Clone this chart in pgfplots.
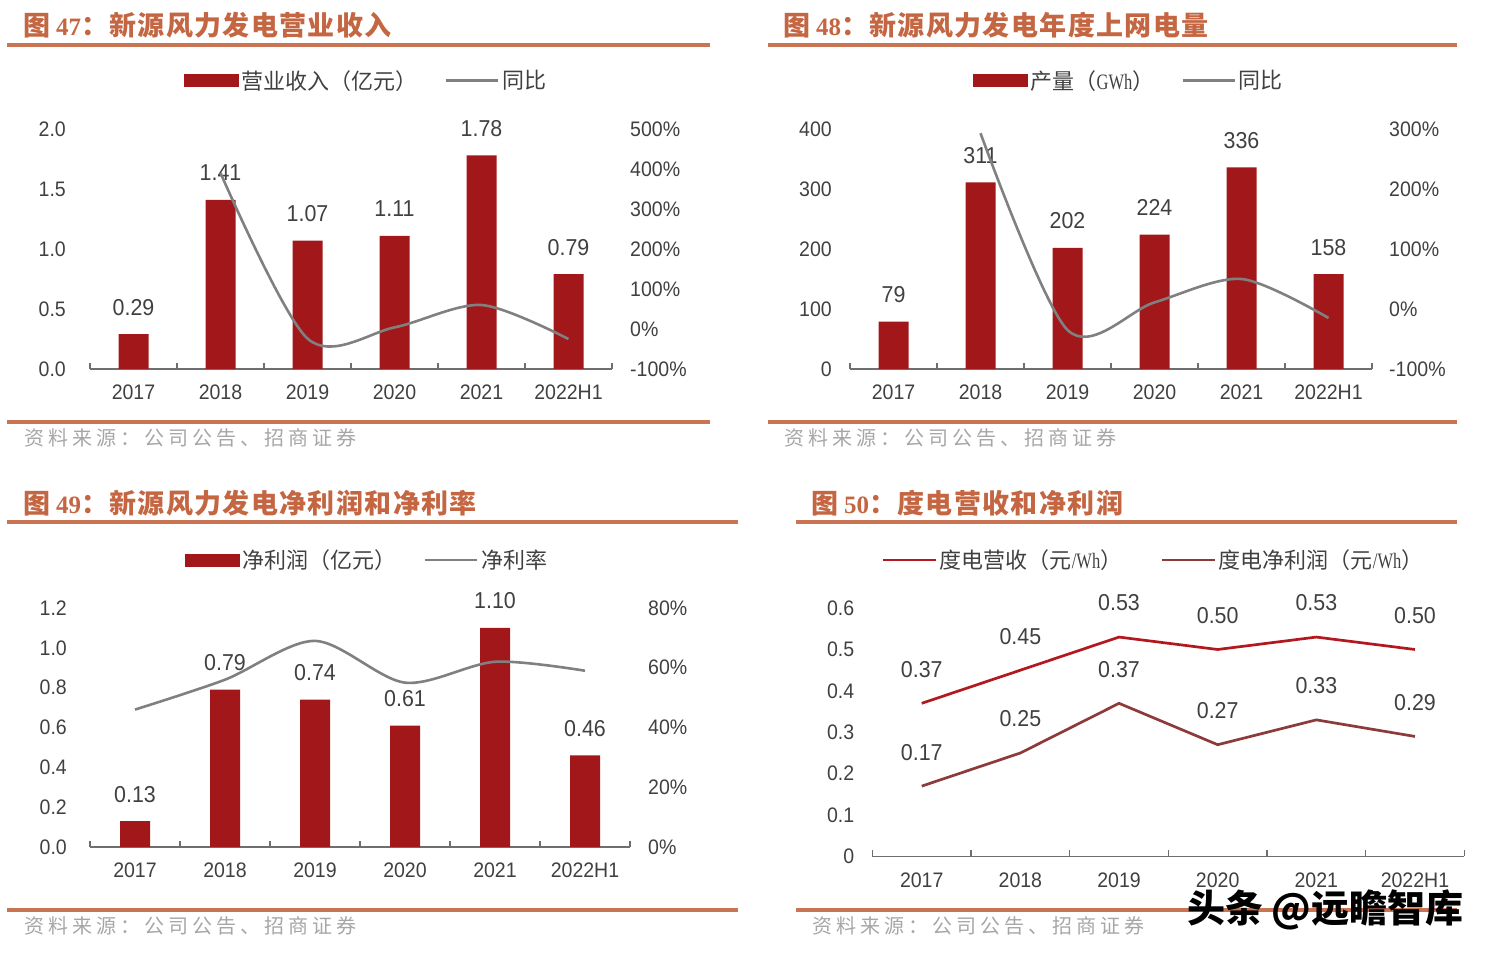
\documentclass[border=0pt]{standalone}
\usepackage{pgfplots}
\pgfplotsset{compat=1.18}
\usepackage{fontspec}
\setmainfont{Liberation Sans}[FakeStretch=0.93]
\newfontfamily\cjk{Noto Sans CJK SC}
\newfontfamily\cjkt{Noto Sans CJK SC}[LetterSpace=5]
\newfontfamily\cjks{Noto Sans CJK SC}[LetterSpace=20]
\newfontfamily\serif{Liberation Serif}
\newfontfamily\serifn{Liberation Serif}[FakeStretch=0.75]

\definecolor{barred}{RGB}{162,23,25}
\definecolor{linegray}{RGB}{128,128,128}
\definecolor{titlec}{RGB}{196,102,66}
\definecolor{rulec}{RGB}{201,116,82}
\definecolor{txt}{RGB}{64,64,64}
\definecolor{srcc}{RGB}{166,166,166}
\definecolor{axg}{RGB}{110,110,110}
\definecolor{revred}{RGB}{178,24,30}
\definecolor{netbr}{RGB}{140,58,58}

\newcommand{\nf}{\fontsize{21}{21}\selectfont}
\newcommand{\df}{\fontsize{23}{23}\selectfont}
\newcommand{\lf}{\cjk\fontsize{22}{22}\selectfont}
\newcommand{\ttl}[2]{{\cjkt\bfseries\fontsize{27}{27}\selectfont 图}\hspace{6pt}{\serif\bfseries\fontsize{25}{25}\selectfont #1}{\cjkt\bfseries\fontsize{27}{27}\selectfont ：#2}}

\pgfplotsset{
  common/.style={
    scale only axis, anchor=south west, clip=false,
    xmin=-0.5, xmax=5.5,
    /pgf/number format/assume math mode=true,
    tick align=inside,
    tick label style={font=\nf, text=txt, inner sep=0pt},
    y axis line style={draw=none}, ytick style={draw=none},
    legend style={draw=none, fill=none, inner sep=0pt, anchor=west,
      legend columns=-1, font=\lf, text=txt, column sep=3pt,
      nodes={inner sep=0pt},
      /tikz/every even column/.append style={column sep=27pt}},
  },
  leftax/.style={common, axis x line*=bottom, axis y line*=left,
    x axis line style={draw=axg, line width=1.6pt},
    xtick={-0.5,0.5,1.5,2.5,3.5,4.5,5.5}, xticklabels={,,,,,,},
    xtick style={draw=axg, line width=1.2pt}, major tick length=6pt,
    extra x ticks={0,1,2,3,4,5},
    extra x tick labels={2017,2018,2019,2020,2021,2022H1},
    extra x tick style={major tick length=0pt},
    xticklabel style={yshift=-16pt},
  },
  rightax/.style={common, axis x line=none, axis y line*=right,
    yticklabel={\pgfmathprintnumber{\tick}\%}},
  barlab/.style={nodes near coords, point meta=explicit symbolic,
    nodes near coords style={font=\df, text=txt, anchor=center, yshift=27pt}},
  barleg/.style={legend image code/.code={\fill[barred] (0pt,-6pt) rectangle (54pt,6pt);}},
  grayleg/.style={legend image code/.code={\draw[linegray,line width=2.6pt] (0pt,0pt)--(52pt,0pt);}},
}

\begin{document}
\begin{tikzpicture}
\path[use as bounding box] (0pt,0pt) rectangle (1489pt,957pt);

% ---------- frames ----------
\draw[rulec, line width=3.3pt] (7pt,912pt) -- (710pt,912pt);
\draw[rulec, line width=3.3pt] (7pt,535pt) -- (710pt,535pt);
\draw[rulec, line width=3.3pt] (768pt,912pt) -- (1457pt,912pt);
\draw[rulec, line width=3.3pt] (768pt,535pt) -- (1457pt,535pt);
\draw[rulec, line width=3.3pt] (7pt,435pt) -- (738pt,435pt);
\draw[rulec, line width=3.3pt] (7pt,47pt) -- (738pt,47pt);
\draw[rulec, line width=3.3pt] (796pt,435pt) -- (1457pt,435pt);
\draw[rulec, line width=3.3pt] (796pt,47pt) -- (1457pt,47pt);

\node[anchor=west, inner sep=0pt, text=titlec] at (23pt,932pt) {\ttl{47}{新源风力发电营业收入}};
\node[anchor=west, inner sep=0pt, text=titlec] at (783pt,932pt) {\ttl{48}{新源风力发电年度上网电量}};
\node[anchor=west, inner sep=0pt, text=titlec] at (23pt,454pt) {\ttl{49}{新源风力发电净利润和净利率}};
\node[anchor=west, inner sep=0pt, text=titlec] at (811pt,454pt) {\ttl{50}{度电营收和净利润}};

\node[anchor=west, inner sep=0pt, text=srcc, font=\cjks\fontsize{20}{20}\selectfont] at (24pt,519pt) {资料来源：公司公告、招商证券};
\node[anchor=west, inner sep=0pt, text=srcc, font=\cjks\fontsize{20}{20}\selectfont] at (784pt,519pt) {资料来源：公司公告、招商证券};
\node[anchor=west, inner sep=0pt, text=srcc, font=\cjks\fontsize{20}{20}\selectfont] at (24pt,31pt) {资料来源：公司公告、招商证券};
\node[anchor=west, inner sep=0pt, text=srcc, font=\cjks\fontsize{20}{20}\selectfont] at (812pt,31pt) {资料来源：公司公告、招商证券};

% ---------- Chart 47 ----------
\begin{axis}[leftax, at={(90pt,588pt)}, width=522pt, height=240pt,
  ymin=0, ymax=2, ytick={0,0.5,1,1.5,2},
  yticklabel style={xshift=-24pt, /pgf/number format/.cd, fixed, fixed zerofill, precision=1}]
\addplot[ybar, bar width=30pt, fill=barred, draw=none, barlab] coordinates
  {(0,0.29)[0.29] (1,1.41)[1.41] (2,1.07)[1.07] (3,1.11)[1.11] (4,1.78)[1.78] (5,0.79)[0.79]};
\end{axis}
\begin{axis}[rightax, at={(90pt,588pt)}, width=522pt, height=240pt,
  ymin=-100, ymax=500, ytick={-100,0,100,200,300,400,500}, yticklabel style={xshift=18pt},
  legend style={at={(0.180,1.202)}}]
\addlegendimage{barleg}
\addlegendentry{营业收入（亿元）}
\addplot[linegray, line width=2.6pt, smooth, grayleg] coordinates
  {(1,390) (2,-24) (3,4) (4,60) (5,-25)};
\addlegendentry{同比}
\end{axis}

% ---------- Chart 48 ----------
\begin{axis}[leftax, at={(850pt,588pt)}, width=522pt, height=240pt,
  ymin=0, ymax=400, ytick={0,100,200,300,400},
  yticklabel style={xshift=-18pt}]
\addplot[ybar, bar width=30pt, fill=barred, draw=none, barlab] coordinates
  {(0,79)[79] (1,311)[311] (2,202)[202] (3,224)[224] (4,336)[336] (5,158)[158]};
\end{axis}
\begin{axis}[rightax, at={(850pt,588pt)}, width=522pt, height=240pt,
  ymin=-100, ymax=300, ytick={-100,0,100,200,300}, yticklabel style={xshift=17pt},
  legend style={at={(0.2356,1.202)}}]
\addlegendimage{barleg}
\addlegendentry{产量（{\serifn GWh}）}
\addplot[linegray, line width=2.6pt, smooth, grayleg] coordinates
  {(1,293) (2,-35) (3,11) (4,50) (5,-15)};
\addlegendentry{同比}
\end{axis}

% ---------- Chart 49 ----------
\begin{axis}[leftax, at={(90pt,110pt)}, width=540pt, height=239pt,
  ymin=0, ymax=1.2, ytick={0,0.2,0.4,0.6,0.8,1.0,1.2},
  yticklabel style={xshift=-23pt, /pgf/number format/.cd, fixed, fixed zerofill, precision=1}]
\addplot[ybar, bar width=30pt, fill=barred, draw=none, barlab] coordinates
  {(0,0.13)[0.13] (1,0.79)[0.79] (2,0.74)[0.74] (3,0.61)[0.61] (4,1.10)[1.10] (5,0.46)[0.46]};
\end{axis}
\begin{axis}[rightax, at={(90pt,110pt)}, width=540pt, height=239pt,
  ymin=0, ymax=80, ytick={0,20,40,60,80}, yticklabel style={xshift=18pt},
  legend style={at={(0.176,1.201)}}]
\addlegendimage{barleg}
\addlegendentry{净利润（亿元）}
\addplot[linegray, line width=2.6pt, smooth, grayleg] coordinates
  {(0,46) (1,56) (2,69) (3,55) (4,62) (5,59)};
\addlegendentry{净利率}
\end{axis}

% ---------- Chart 50 ----------
\begin{axis}[leftax, at={(872.4pt,100.5pt)}, width=591.9pt, height=248.4pt,
  ymin=0, ymax=0.6, ytick={0,0.1,0.2,0.3,0.4,0.5,0.6},
  yticklabels={0,0.1,0.2,0.3,0.4,0.5,0.6}, yticklabel style={xshift=-18pt},
  legend style={at={(0.0145,1.194)}, /tikz/every even column/.append style={column sep=38pt}}]
\addplot[revred, line width=2.7pt, nodes near coords, point meta=explicit symbolic,
  nodes near coords style={font=\df, text=txt, anchor=center, yshift=34pt},
  legend image code/.code={\draw[revred,line width=2.7pt] (0pt,0pt)--(53pt,0pt);}] coordinates
  {(0,0.37)[0.37] (1,0.45)[0.45] (2,0.53)[0.53] (3,0.50)[0.50] (4,0.53)[0.53] (5,0.50)[0.50]};
\addlegendentry{度电营收（元{\serifn /Wh}）}
\addplot[netbr, line width=2.7pt, nodes near coords, point meta=explicit symbolic,
  nodes near coords style={font=\df, text=txt, anchor=center, yshift=34pt},
  legend image code/.code={\draw[netbr,line width=2.7pt] (0pt,0pt)--(53pt,0pt);}] coordinates
  {(0,0.17)[0.17] (1,0.25)[0.25] (2,0.37)[0.37] (3,0.27)[0.27] (4,0.33)[0.33] (5,0.29)[0.29]};
\addlegendentry{度电净利润（元{\serifn /Wh}）}
\end{axis}

\node[anchor=west, inner sep=0pt, font=\cjk\bfseries\fontsize{38}{38}\selectfont] at (1187pt,47pt) {头条 @远瞻智库};
\end{tikzpicture}
\end{document}
